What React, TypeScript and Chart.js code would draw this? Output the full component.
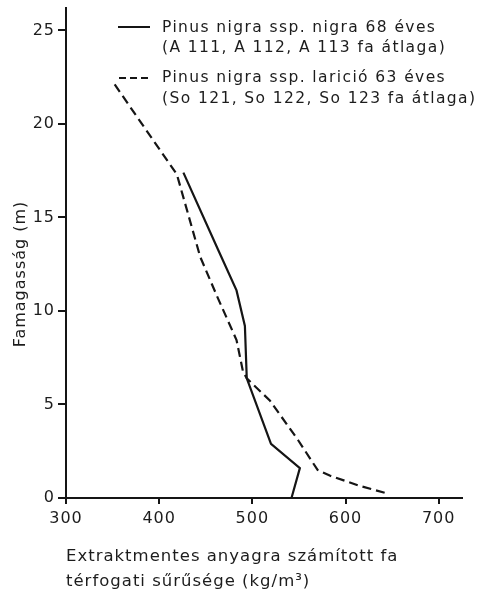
import React, { useEffect, useRef } from "react";
import { Chart, registerables } from "chart.js";

Chart.register(...registerables);

// Pinus nigra ssp. nigra 68 éves — density (kg/m³) vs tree height (m)
const nigraDensity = [542, 551, 520, 494, 492, 483, 463, 426];
const nigraHeight = [0, 1.6, 2.9, 6.4, 9.2, 11.1, 13.3, 17.4];

// Pinus nigra ssp. larició 63 éves
const laricioDensity = [642, 615, 583, 570, 549, 519, 494, 490, 483, 462, 444, 419, 351];
const laricioHeight = [0.28, 0.65, 1.2, 1.5, 3.1, 5.2, 6.4, 6.75, 8.45, 10.8, 12.9, 17.3, 22.2];

const xTicks = [300, 400, 500, 600, 700];
const yTicks = [0, 5, 10, 15, 20, 25];

const legendSolid = ["Pinus nigra ssp. nigra 68 éves", "(A 111, A 112, A 113 fa átlaga)"];
const legendDashed = ["Pinus nigra ssp. larició 63 éves", "(So 121, So 122, So 123 fa átlaga)"];

const xTitle = ["Extraktmentes anyagra számított fa", "térfogati sűrűsége (kg/m³)"];
const yTitle = "Famagasság (m)";

const INK = "#151515";
const TEXT = "#1c1c1c";
const FONT = "DejaVu Sans";

const annotPlugin = {
  id: "annot",
  beforeDraw(chart: any) {
    chart.ctx.letterSpacing = "1px";
  },
  afterDraw(chart: any) {
    const ctx = chart.ctx as CanvasRenderingContext2D;
    ctx.save();
    // y-axis title
    ctx.fillStyle = TEXT;
    ctx.font = `16px "${FONT}"`;
    (ctx as any).letterSpacing = "1px";
    ctx.textAlign = "center";
    ctx.textBaseline = "middle";
    ctx.translate(21, 274);
    ctx.rotate(-Math.PI / 2);
    ctx.fillText(yTitle, 0, 0);
    ctx.restore();

    // legend
    ctx.save();
    ctx.strokeStyle = INK;
    ctx.lineWidth = 2;
    ctx.beginPath();
    ctx.moveTo(118, 27);
    ctx.lineTo(150, 27);
    ctx.stroke();
    ctx.setLineDash([7, 4]);
    ctx.beginPath();
    ctx.moveTo(119, 78);
    ctx.lineTo(150, 78);
    ctx.stroke();
    ctx.setLineDash([]);
    ctx.fillStyle = TEXT;
    ctx.font = `15.5px "${FONT}"`;
    (ctx as any).letterSpacing = "1.4px";
    ctx.textAlign = "left";
    ctx.textBaseline = "middle";
    ctx.fillText(legendSolid[0], 162, 28);
    ctx.fillText(legendSolid[1], 162, 48);
    ctx.fillText(legendDashed[0], 162, 78);
    ctx.fillText(legendDashed[1], 162, 99);
    ctx.restore();
  },
};

export default function App() {
  const ref = useRef<HTMLCanvasElement | null>(null);

  useEffect(() => {
    if (!ref.current) return;
    const chart = new Chart(ref.current, {
      type: "line",
      data: {
        datasets: [
          {
            label: legendSolid.join(" "),
            data: nigraDensity.map((x, i) => ({ x, y: nigraHeight[i] })),
            borderColor: INK,
            borderWidth: 2.2,
            pointRadius: 0,
            fill: false,
            tension: 0,
          },
          {
            label: legendDashed.join(" "),
            data: laricioDensity.map((x, i) => ({ x, y: laricioHeight[i] })),
            borderColor: INK,
            borderWidth: 2.2,
            borderDash: [9, 5],
            pointRadius: 0,
            fill: false,
            tension: 0,
          },
        ],
      },
      options: {
        animation: false,
        responsive: false,
        layout: { padding: { left: 0, top: 8, right: 21, bottom: 0 } },
        plugins: {
          legend: { display: false },
          tooltip: { enabled: false },
        },
        scales: {
          x: {
            type: "linear",
            min: 300,
            max: 725,
            afterBuildTicks: (scale: any) => {
              scale.ticks = xTicks.map((v) => ({ value: v }));
            },
            afterFit: (scale: any) => {
              scale.height = 92;
              scale.paddingLeft = 0;
              scale.paddingRight = 0;
            },
            ticks: {
              color: TEXT,
              font: { family: FONT, size: 16 },
              padding: 5,
              maxRotation: 0,
              autoSkip: false,
            },
            grid: {
              drawOnChartArea: false,
              drawTicks: true,
              tickLength: 6,
              color: INK,
              lineWidth: 2,
            },
            border: { display: true, color: INK, width: 2 },
            title: {
              display: true,
              text: xTitle,
              align: "start",
              color: TEXT,
              font: { family: FONT, size: 16.5, lineHeight: "25px" },
              padding: { top: 0, bottom: -4.5 },
            },
          },
          y: {
            type: "linear",
            min: 0,
            max: 26.2,
            afterBuildTicks: (scale: any) => {
              scale.ticks = yTicks.map((v) => ({ value: v }));
            },
            afterFit: (scale: any) => {
              scale.width = 66;
              scale.paddingTop = 0;
              scale.paddingBottom = 0;
            },
            ticks: {
              color: TEXT,
              font: { family: FONT, size: 16 },
              padding: 3,
              autoSkip: false,
            },
            grid: {
              drawOnChartArea: false,
              drawTicks: true,
              tickLength: 8,
              color: INK,
              lineWidth: 2,
            },
            border: { display: true, color: INK, width: 2 },
          },
        },
      },
      plugins: [annotPlugin],
    });
    return () => chart.destroy();
  }, []);

  return (
    <div
      style={{
        position: "fixed",
        left: 0,
        top: 0,
        width: 483,
        height: 590,
        background: "#fff",
        overflow: "hidden",
      }}
    >
      <canvas ref={ref} width={483} height={590} style={{ display: "block" }} />
    </div>
  );
}
